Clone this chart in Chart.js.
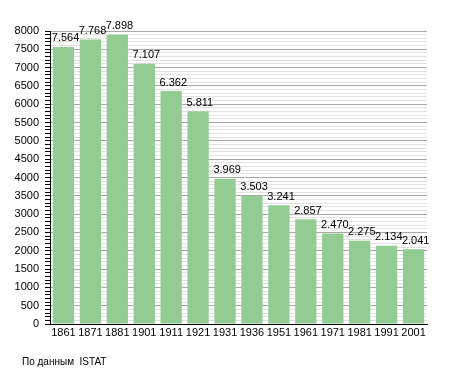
<!DOCTYPE html>
<html>
<head>
<meta charset="utf-8">
<script src="https://cdn.jsdelivr.net/npm/chart.js@4"></script>
<style>
body { margin: 0; background: #fff; }
#wrap { position: relative; width: 455px; height: 373px; }
#note { position: absolute; left: 22px; top: 356px; font: 10px "Liberation Sans", Arial, sans-serif; color: #000; }
</style>
</head>
<body>
<div id="wrap">
<canvas id="myBarChart" width="455" height="373"></canvas>
<div id="note">По данным&nbsp; ISTAT</div>
</div>
<script>
var years = ['1861', '1871', '1881', '1901', '1911', '1921', '1931', '1936', '1951', '1961', '1971', '1981', '1991', '2001'];
var population = [7564, 7768, 7898, 7107, 6362, 5811, 3969, 3503, 3241, 2857, 2470, 2275, 2134, 2041];
var yMax = 8000;

function FormatNumber(v) {
    return v.toLocaleString('de-DE');
}

// value labels above the bars, left aligned with the bar
var valueLabels = {
    id: 'valueLabels',
    afterDatasetsDraw: function(chart) {
        var ctx = chart.ctx;
        var meta = chart.getDatasetMeta(0);
        ctx.save();
        ctx.font = '11px "Liberation Sans", Arial, sans-serif';
        ctx.fillStyle = '#000';
        ctx.textAlign = 'left';
        ctx.textBaseline = 'bottom';
        for (var i = 0; i < meta.data.length; i++) {
            var bar = meta.data[i];
            ctx.fillText(FormatNumber(population[i]), bar.x - bar.width / 2 - 1, bar.y - 3);
        }
        ctx.restore();
    }
};

Chart.defaults.font.family = '"Liberation Sans", Arial, sans-serif';
Chart.defaults.font.size = 11;
Chart.defaults.color = '#000';

var ctx = document.getElementById('myBarChart');
var populationGraph = new Chart(ctx, {
    type: 'bar',
    data: {
        labels: years,
        datasets: [
            {
                data: population,
                backgroundColor: 'rgb(146, 204, 146)',
                borderWidth: 0,
                barPercentage: 0.79,
                categoryPercentage: 1
            }
        ]
    },
    options: {
        responsive: false,
        animation: false,
        layout: { padding: { left: 0, top: 31, right: 28, bottom: 29 } },
        plugins: {
            legend: { display: false },
            tooltip: { enabled: false }
        },
        scales: {
            x: {
                grid: { display: false },
                border: { color: '#000', width: 1 },
                ticks: { padding: -6, color: '#000', maxRotation: 0, minRotation: 0, autoSkip: false },
                afterFit: function(scale) { scale.height = 20; }
            },
            y: {
                min: 0,
                max: yMax,
                border: { color: '#000', width: 1 },
                grid: {
                    color: function(c) {
                        return c.tick && c.tick.value % 500 === 0 ? '#a8a8a8' : '#e2e2e2';
                    },
                    tickColor: '#000',
                    tickLength: 5
                },
                ticks: {
                    stepSize: 100,
                    autoSkip: false,
                    padding: 6,
                    color: '#000',
                    callback: function(v) { return v % 500 === 0 ? String(v) : ''; }
                },
                afterFit: function(scale) { scale.width = 50; }
            }
        }
    },
    plugins: [valueLabels]
});
</script>
</body>
</html>
